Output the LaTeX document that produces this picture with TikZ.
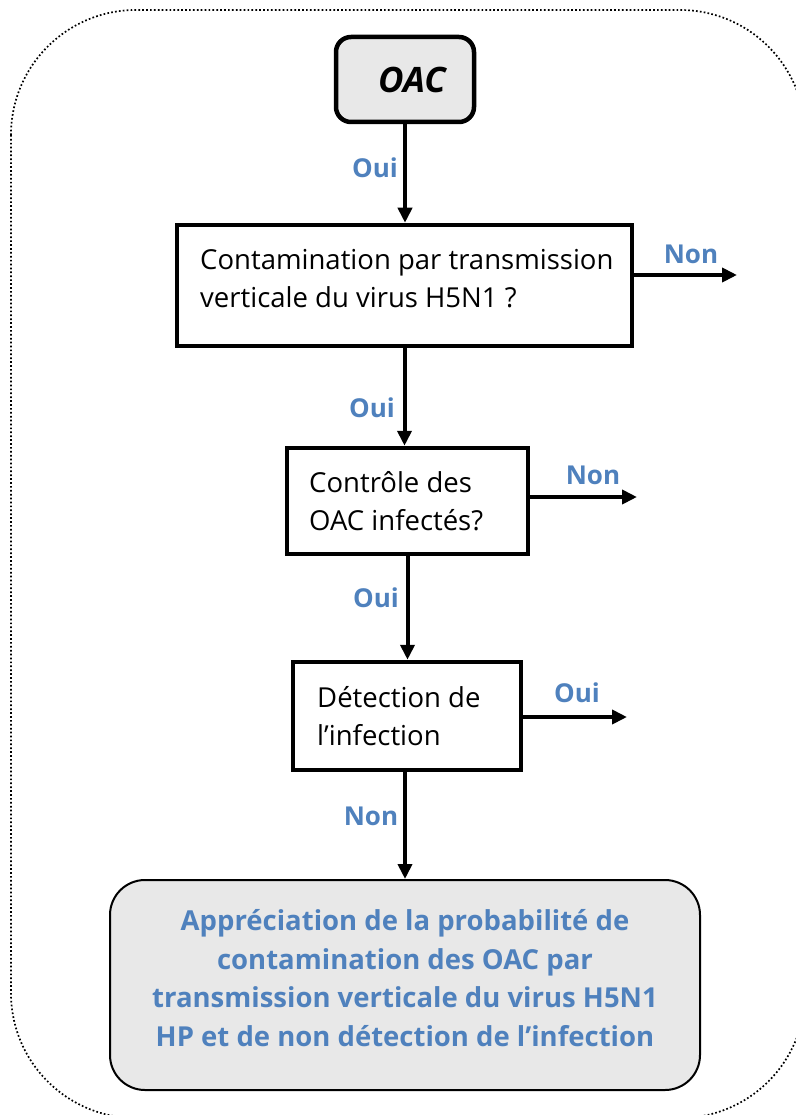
\documentclass[tikz,border=0pt]{standalone}
\usepackage{fontspec}
\setmainfont{Open Sans}
\usetikzlibrary{arrows.meta}
\definecolor{labelblue}{RGB}{79,129,189}
\definecolor{boxgray}{RGB}{232,232,232}
\begin{document}
\begin{tikzpicture}[x=1pt,y=-1pt,
  qbox/.style={draw, line width=4.5pt, rectangle, inner sep=0pt},
  qtext/.style={anchor=west, align=left, inner sep=0pt,
    font=\fontsize{27.5}{38}\selectfont},
  arr/.style={line width=4pt, -{Triangle[length=15pt,width=14pt]}},
  lbl/.style={text=labelblue, font=\fontsize{26}{30}\selectfont\bfseries, inner sep=0pt}]
\useasboundingbox (0,0) rectangle (795,1115);
% outer dotted frame
\draw[line width=1.7pt, dash pattern=on 1.7pt off 2.2pt, rounded corners=125pt]
  (11,10) rectangle (805,1118);
% start node
\node[draw, line width=4.5pt, rounded corners=15pt, fill=boxgray,
  minimum width=138pt, minimum height=85pt, inner sep=0pt] (oac) at (405,79.5) {};
\node[font=\fontsize{35}{38}\selectfont\bfseries\itshape, inner sep=0pt] (oact) at (412,80) {OAC};
% decision boxes
\node[qbox, minimum width=455pt, minimum height=121pt] (q1) at (404.5,285.5) {};
\node[qtext] (t1) at (200,279) {Contamination par transmission\\verticale du virus H5N1 ?};
\node[qbox, minimum width=241pt, minimum height=106pt] (q2) at (407.5,501) {};
\node[qtext] (t2) at (309,501) {Contrôle des\\OAC infectés?};
\node[qbox, minimum width=228pt, minimum height=108pt] (q3) at (407,716) {};
\node[qtext] (t3) at (317,716) {Détection de\\l’infection};
% result box
\node[draw, line width=2pt, rounded corners=35pt, fill=boxgray,
  minimum width=590pt, minimum height=210pt, inner sep=0pt] (res) at (405,985) {};
\node[align=center, text=labelblue, inner sep=0pt,
  font=\fontsize{27.5}{38.5}\selectfont\bfseries] (rest) at (405,978)
  {Appréciation de la probabilité de\\contamination des OAC par\\transmission verticale du virus H5N1\\HP et de non détection de l’infection};
% free ends of side exits
\coordinate (e1) at (737,275);
\coordinate (e2) at (637,497);
\coordinate (e3) at (627,717);
% vertical flow
\draw[arr] (oac.south) -- (oac.south |- q1.north);
\draw[arr] (q1.south) -- (q1.south |- q2.north);
\draw[arr] (q2.south) -- (q2.south |- q3.north);
\draw[arr] (q3.south -| res.north) -- (res.north);
% side exits
\draw[arr] (q1.east |- e1) -- (e1);
\draw[arr] (q2.east |- e2) -- (e2);
\draw[arr] (q3.east |- e3) -- (e3);
% branch labels
\node[lbl] (l1) at (375,168) {Oui};
\node[lbl] (l2) at (372,408) {Oui};
\node[lbl] (l3) at (376,598) {Oui};
\node[lbl] (l4) at (371,816) {Non};
\node[lbl] (l5) at (691,254) {Non};
\node[lbl] (l6) at (593,475) {Non};
\node[lbl] (l7) at (577,693) {Oui};
\end{tikzpicture}
\end{document}
